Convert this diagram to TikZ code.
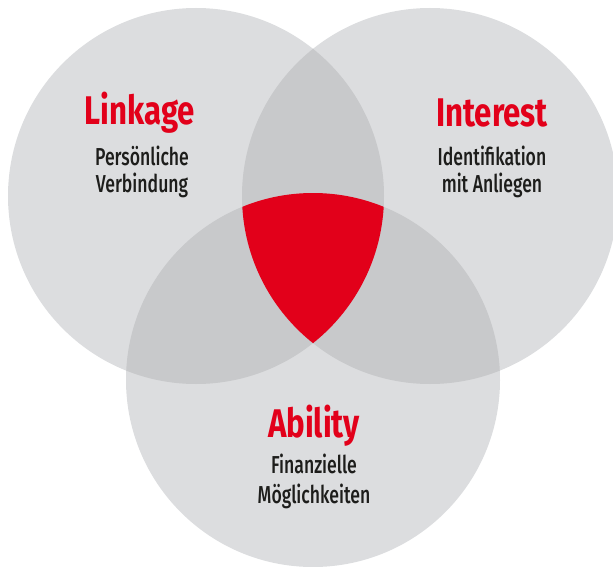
\documentclass[tikz,border=0pt]{standalone}
\usepackage{fontspec}
\setmainfont{Fira Sans}[FakeStretch=0.72]
\newfontfamily\vtitlefont{Fira Sans}[FakeStretch=0.78]
\newfontfamily\vsubfont{Fira Sans Medium}[FakeStretch=0.72]
\definecolor{vlight}{HTML}{DCDDDF}
\definecolor{vdark}{HTML}{C8C9CB}
\definecolor{vred}{HTML}{E2001A}
\definecolor{vblack}{HTML}{1D1D1B}
\tikzset{
  vtitle/.style={text=vred, font=\vtitlefont\fontsize{40}{40}\selectfont\bfseries, anchor=base, inner sep=0pt},
  vsub/.style={text=vblack, font=\vsubfont\fontsize{24.5}{24.5}\selectfont, anchor=base, inner sep=0pt},
}
\begin{document}
\begin{tikzpicture}[x=1pt,y=-1pt]
\useasboundingbox (0,0) rectangle (613,567);
\clip (0,0) rectangle (613,567);
\coordinate (cL) at (196,196);
\coordinate (cI) at (430,196);
\coordinate (cA) at (313,380);
\def\rL{188}
\def\rA{187}
% circles
\fill[vlight] (cL) circle[radius=\rL];
\fill[vlight] (cI) circle[radius=\rL];
\fill[vlight] (cA) circle[radius=\rA];
% pairwise overlaps
\begin{scope}
  \clip (cL) circle[radius=\rL];
  \fill[vdark] (cI) circle[radius=\rL];
  \fill[vdark] (cA) circle[radius=\rA];
\end{scope}
\begin{scope}
  \clip (cI) circle[radius=\rL];
  \fill[vdark] (cA) circle[radius=\rA];
\end{scope}
% triple overlap
\begin{scope}
  \clip (cL) circle[radius=\rL];
  \clip (cI) circle[radius=\rL];
  \fill[vred] (cA) circle[radius=\rA];
\end{scope}
% texts
\node[vtitle] (tL) at (140,125) {Linkage};
\node[vsub] (sL1) at (142,165) {Persönliche};
\node[vsub] (sL2) at (142,192.5) {Verbindung};
\node[vtitle] (tI) at (492,127) {Interest};
\node[vsub] (sI1) at (492,165) {Identifikation};
\node[vsub] (sI2) at (492,193) {mit Anliegen};
\node[vtitle] (tA) at (314,437) {Ability};
\node[vsub] (sA1) at (314,473) {Finanzielle};
\node[vsub] (sA2) at (314,503) {Möglichkeiten};
\end{tikzpicture}
\end{document}
